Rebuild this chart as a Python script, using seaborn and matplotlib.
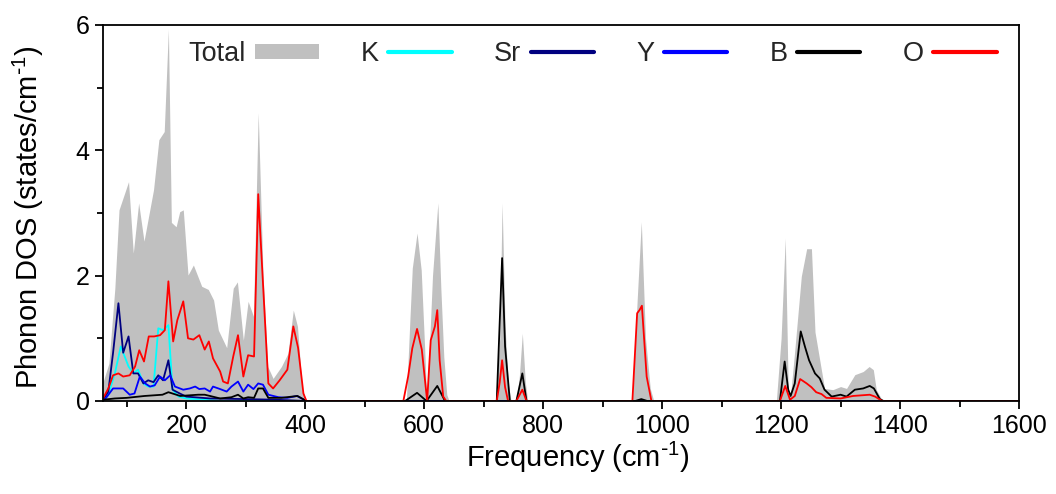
import numpy as np
import pandas as pd
import matplotlib
matplotlib.use("Agg")
import matplotlib.pyplot as plt
from matplotlib.lines import Line2D
from matplotlib.patches import Patch
from matplotlib.ticker import MultipleLocator
import seaborn as sns

# ---- total phonon DOS (filled) ----
freq_total = [60, 70, 80, 87, 103, 111, 120, 129, 145, 154, 163, 170, 175, 183, 189, 195,
              203, 212, 226, 237, 246, 254, 268, 279, 286, 296, 304, 313, 321, 329, 337, 346,
              360, 371, 380, 387, 395, 402,
              570, 576, 580, 588, 595, 601, 604, 609, 614, 623, 628, 633, 638, 642,
              720, 727, 731, 736, 741, 746, 755, 760, 765, 770, 774,
              950, 958, 965, 972, 980, 986,
              1192, 1200, 1207, 1212, 1216, 1223, 1234, 1243, 1251, 1257, 1265, 1273, 1287,
              1300, 1310, 1324, 1338, 1348, 1355, 1360, 1369, 1375]
dos_total = [0.30, 0.60, 1.80, 3.05, 3.50, 2.36, 3.16, 2.55, 3.37, 4.17, 4.30, 5.93, 2.85, 2.78, 3.02, 3.05,
             2.01, 2.17, 1.83, 1.78, 1.61, 1.13, 0.85, 1.80, 1.90, 0.97, 1.59, 1.35, 4.60, 2.04, 0.55, 0.36,
             0.55, 0.76, 1.45, 1.19, 0.18, 0.00,
             0.00, 1.30, 2.12, 2.68, 2.09, 0.80, 0.05, 0.90, 2.00, 3.16, 1.80, 0.70, 0.10, 0.00,
             0.00, 1.00, 3.16, 1.20, 0.30, 0.00, 0.00, 0.40, 1.08, 0.30, 0.00,
             0.00, 1.60, 2.86, 1.00, 0.20, 0.00,
             0.00, 1.00, 2.60, 0.18, 0.10, 0.81, 1.99, 2.43, 2.43, 1.10, 0.65, 0.20, 0.18,
             0.23, 0.20, 0.42, 0.47, 0.55, 0.50, 0.18, 0.03, 0.00]

# ---- K partial DOS ----
freq_k = [60, 69, 80, 90, 103, 111, 119, 128, 136, 145, 153, 161, 170, 177, 187, 200, 230, 260, 1600]
dos_k = [0.00, 0.10, 0.44, 0.87, 0.55, 0.44, 0.50, 0.28, 0.23, 0.23, 1.16, 1.13, 1.21, 0.18, 0.07, 0.04, 0.02, 0.00, 0.00]

# ---- Sr partial DOS ----
freq_sr = [60, 69, 77, 86, 94, 103, 111, 119, 128, 136, 145, 153, 161, 170, 177, 189, 200, 240, 300, 350, 400, 1600]
dos_sr = [0.02, 0.15, 0.77, 1.56, 0.77, 1.03, 0.44, 0.44, 0.28, 0.33, 0.30, 0.41, 0.33, 0.65, 0.18, 0.12, 0.07, 0.04, 0.03, 0.02, 0.00, 0.00]

# ---- Y partial DOS ----
freq_y = [60, 66, 77, 94, 105, 113, 122, 131, 139, 147, 156, 164, 173, 181, 195, 206, 215, 222,
          231, 240, 245, 257, 268, 276, 287, 296, 304, 313, 321, 329, 338, 355, 370, 386, 402, 1600]
dos_y = [0.00, 0.06, 0.20, 0.20, 0.10, 0.12, 0.39, 0.28, 0.23, 0.25, 0.39, 0.33, 0.41, 0.23, 0.18, 0.20, 0.23, 0.19,
         0.20, 0.15, 0.23, 0.19, 0.15, 0.23, 0.31, 0.15, 0.26, 0.19, 0.28, 0.26, 0.10, 0.06, 0.05, 0.08, 0.00, 0.00]

# ---- B partial DOS ----
freq_b = [60, 80, 100, 130, 160, 170, 190, 220, 231, 240, 257, 276, 287, 296, 304, 314, 321, 329, 338, 360, 387, 402,
          568, 588, 604, 622, 635,
          722, 731, 736, 744, 755, 765, 772,
          955, 965, 975,
          1198, 1206, 1212, 1216, 1223, 1233, 1240, 1247, 1257, 1265, 1273, 1285, 1300, 1310, 1324, 1338, 1349, 1356, 1366, 1372, 1600]
dos_b = [0.02, 0.04, 0.05, 0.08, 0.10, 0.14, 0.08, 0.10, 0.10, 0.08, 0.04, 0.06, 0.10, 0.04, 0.06, 0.05, 0.20, 0.20, 0.05, 0.05, 0.08, 0.00,
         0.00, 0.13, 0.00, 0.24, 0.00,
         0.00, 2.28, 0.87, 0.00, 0.00, 0.44, 0.00,
         0.00, 0.03, 0.00,
         0.00, 0.63, 0.18, 0.08, 0.28, 1.11, 0.87, 0.65, 0.44, 0.36, 0.18, 0.07, 0.10, 0.07, 0.18, 0.20, 0.24, 0.20, 0.03, 0.00, 0.00]

# ---- O partial DOS ----
freq_o = [60, 69, 77, 86, 94, 105, 114, 121, 129, 137, 146, 156, 164, 170, 178, 185, 195, 203, 212, 222,
          231, 238, 245, 257, 262, 270, 279, 287, 296, 304, 314, 321, 329, 338, 346, 357, 370, 380, 388, 397, 402,
          565, 573, 580, 588, 596, 605, 611, 618, 622, 626, 632, 637,
          722, 727, 731, 736, 741, 755, 765, 772,
          950, 958, 962, 966, 974, 982,
          1198, 1207, 1215, 1223, 1232, 1243, 1251, 1259, 1268, 1276, 1300, 1321, 1349, 1358, 1370, 1600]
dos_o = [0.04, 0.20, 0.41, 0.44, 0.39, 0.41, 0.55, 0.81, 0.63, 1.03, 1.03, 1.05, 1.13, 1.91, 0.95, 1.29, 1.59, 1.00, 0.98, 1.05,
         0.82, 0.95, 0.68, 0.47, 0.31, 0.28, 0.71, 1.05, 0.39, 0.73, 0.71, 3.30, 1.88, 0.28, 0.20, 0.33, 0.50, 1.19, 0.85, 0.12, 0.00,
         0.00, 0.39, 0.84, 1.15, 0.82, 0.00, 0.97, 1.19, 1.45, 0.65, 0.07, 0.00,
         0.00, 0.30, 0.65, 0.22, 0.00, 0.00, 0.18, 0.00,
         0.00, 1.40, 1.45, 1.52, 0.39, 0.00,
         0.00, 0.24, 0.02, 0.08, 0.35, 0.28, 0.22, 0.14, 0.11, 0.05, 0.04, 0.08, 0.10, 0.07, 0.00, 0.00]

series_names = ["K", "Sr", "Y", "B", "O"]
series_colors = ["#00ffff", "#000080", "#0000ff", "#000000", "#ff0000"]
series_freq = [freq_k, freq_sr, freq_y, freq_b, freq_o]
series_dos = [dos_k, dos_sr, dos_y, dos_b, dos_o]

sns.set_style("ticks")
plt.rcParams["font.family"] = ["Liberation Sans", "DejaVu Sans"]
plt.rcParams["mathtext.default"] = "regular"

fig = plt.figure(figsize=(10.56, 4.94), dpi=100)
ax = fig.add_axes([0.0975, 0.1883, 0.8675, 0.7611])

ax.fill_between(freq_total, dos_total, 0, color="#c0c0c0", linewidth=0, zorder=1)

for name, color, fx, fy in zip(series_names, series_colors, series_freq, series_dos):
    df = pd.DataFrame({"freq": fx, "dos": fy})
    sns.lineplot(data=df, x="freq", y="dos", color=color, linewidth=1.3,
                 estimator=None, sort=True, ax=ax, zorder=2)

ax.set_xlim(60, 1600)
ax.set_ylim(0, 6)
ax.xaxis.set_major_locator(MultipleLocator(200))
ax.xaxis.set_minor_locator(MultipleLocator(100))
ax.yaxis.set_major_locator(MultipleLocator(2))
ax.yaxis.set_minor_locator(MultipleLocator(1))
ax.tick_params(axis="both", which="major", direction="out", length=6, width=1.3,
               labelsize=18, color="black", labelcolor="black")
ax.tick_params(axis="both", which="minor", direction="out", length=4, width=1.3, color="black")
ax.tick_params(top=False, right=False, which="both")
for sp in ax.spines.values():
    sp.set_visible(True)
    sp.set_linewidth(1.3)
    sp.set_color("black")

ax.set_xlabel(r"Frequency (cm$^{\text{-}1}$)", fontsize=21, color="black")
ax.set_ylabel(r"Phonon DOS (states/cm$^{\text{-}1}$)", fontsize=21, color="black")
ax.xaxis.set_label_coords(0.5186, -0.104)
ax.yaxis.set_label_coords(-0.062, 0.49)

handles = [Patch(facecolor="#c0c0c0", edgecolor="none", label="Total")]
for name, color in zip(series_names, series_colors):
    handles.append(Line2D([0], [0], color=color, linewidth=3, label=name))
ax.legend(handles=handles, ncol=6, loc="center left", bbox_to_anchor=(0.093, 0.923),
          frameon=False, markerfirst=False, fontsize=19.5, handlelength=2.35,
          handleheight=0.5, handletextpad=0.35, columnspacing=1.55, borderpad=0,
          borderaxespad=0)

fig.savefig("out.png", dpi=100)
